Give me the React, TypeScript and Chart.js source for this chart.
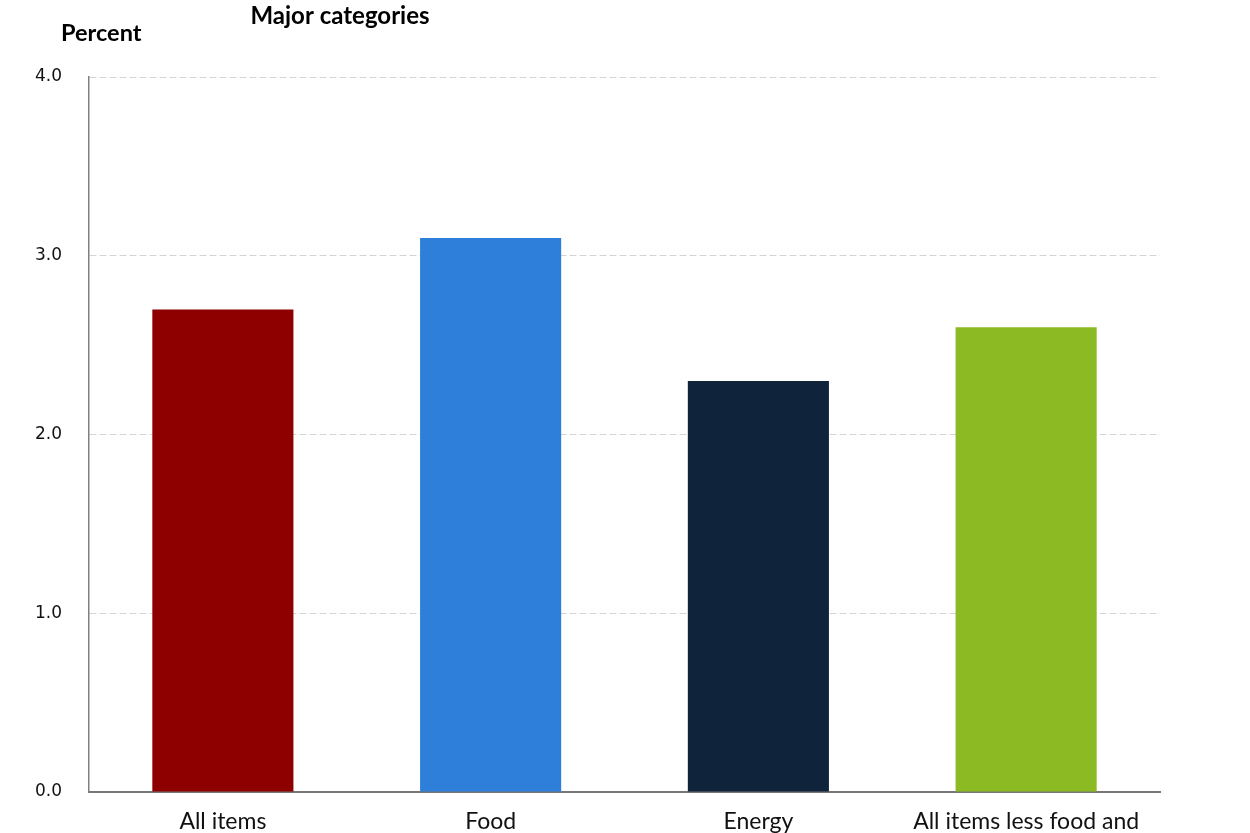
import React, { useEffect, useRef } from "react";
import { Chart, registerables } from "chart.js";

Chart.register(...registerables);

const categories: (string | string[])[] = [
  "All items",
  "Food",
  "Energy",
  ["All items less food and", "energy"],
];
const values = [2.7, 3.1, 2.3, 2.6];
const barColors = ["#8e0000", "#2e7fd9", "#0f243a", "#8bba23"];
const titleText = "Major categories";
const yAxisTitle = "Percent";

const headerPlugin = {
  id: "header",
  afterDraw(chart: any) {
    const ctx = chart.ctx;
    ctx.save();
    ctx.fillStyle = "#000";
    ctx.textBaseline = "middle";
    ctx.font = "bold 24px Lato";
    ctx.textAlign = "center";
    ctx.fillText(titleText, 340, 16);
    ctx.font = "bold 23.5px Lato";
    ctx.textAlign = "left";
    ctx.fillText(yAxisTitle, 61, 33);
    ctx.restore();
  },
};

export default function App() {
  const ref = useRef<HTMLCanvasElement>(null);
  useEffect(() => {
    const chart = new Chart(ref.current!, {
      type: "bar",
      data: {
        labels: categories,
        datasets: [
          {
            data: values,
            backgroundColor: barColors,
            barPercentage: 0.527,
            categoryPercentage: 1,
          },
        ],
      },
      options: {
        animation: false,
        responsive: false,
        devicePixelRatio: 1,
        layout: { padding: { top: 77, right: 90, left: 0, bottom: 0 } },
        plugins: { legend: { display: false }, tooltip: { enabled: false } },
        scales: {
          x: {
            grid: { display: false, drawTicks: false },
            border: { display: true, color: "#777777", width: 2 },
            ticks: {
              font: { family: "Lato", size: 23 },
              color: "#111",
              padding: 16,
              maxRotation: 0,
              autoSkip: false,
            },
            afterFit(scale: any) {
              scale.height = 78;
            },
          },
          y: {
            min: 0,
            max: 4,
            grid: {
              color: "#d4d4d4",
              drawTicks: false,
              lineWidth: 1,
            },
            border: { display: true, color: "#808080", width: 1.5, dash: [7, 3] as any },
            ticks: {
              stepSize: 1,
              padding: 27,
              font: { family: "DejaVu Sans", size: 17 },
              color: "#111",
              callback: (v: any) => Number(v).toFixed(1),
            },
            afterFit(scale: any) {
              scale.width = 89;
            },
          },
        },
      },
      plugins: [headerPlugin],
    });
    return () => chart.destroy();
  }, []);
  return (
    <div style={{ position: "absolute", left: 0, top: 0, width: 1250, height: 833, overflow: "hidden", background: "#fff" }}>
      <canvas ref={ref} width={1250} height={870} style={{ display: "block" }} />
    </div>
  );
}
